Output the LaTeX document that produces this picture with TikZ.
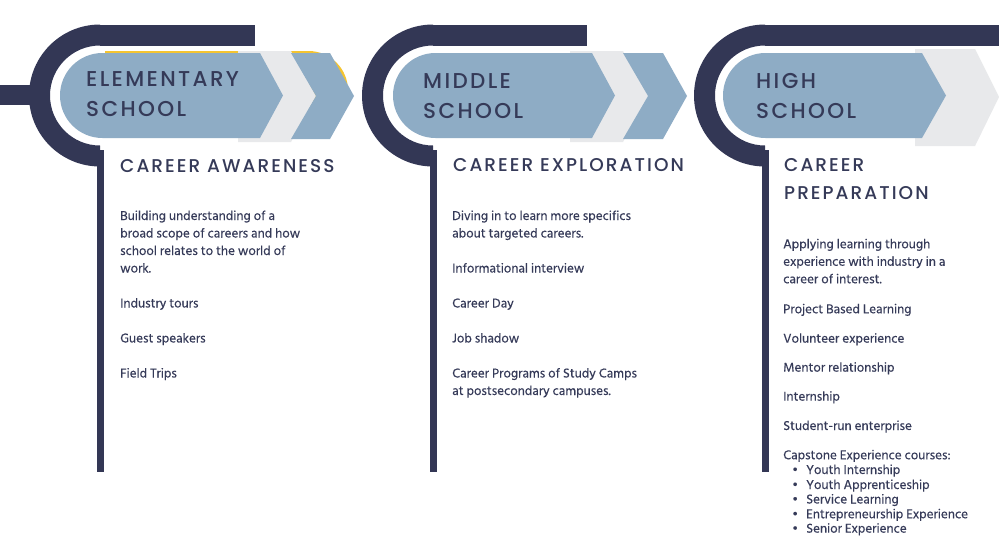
\documentclass[tikz,border=0pt]{standalone}
\usepackage{fontspec}
\IfFontExistsTF{Poppins Medium}
  {\newfontfamily\headfont[LetterSpace=11]{Poppins Medium}}
  {\newfontfamily\headfont[LetterSpace=12,FakeBold=1.2]{Poppins}}
\newfontfamily\bodyfont[FakeBold=0.4]{Hind Siliguri}
\definecolor{navy}{HTML}{333755}
\definecolor{pillblue}{HTML}{8EACC5}
\definecolor{chevgray}{HTML}{E8E9EB}
\definecolor{yel}{HTML}{F4C430}
\definecolor{txt}{HTML}{353A58}
\tikzset{
  bodytxt/.style={anchor=base west, inner sep=0pt, text=txt, font=\bodyfont\fontsize{13.2}{16}\selectfont},
  headtxt/.style={anchor=base west, inner sep=0pt, text=txt, font=\headfont\fontsize{21.5}{24}\selectfont},
  subtxt/.style={anchor=base west, inner sep=0pt, text=txt, font=\headfont\fontsize{18.5}{22}\selectfont},
}
\newcommand\Cshape[2]{% #1 cx, #2 bar right end
  \fill[navy] (#1,24.5) arc[start angle=270, end angle=90, radius=71] -- (#1,145.5)
     arc[start angle=90, end angle=270, radius=50] -- cycle;
  \fill[navy] (#1,24.5) rectangle (#2,45.5);
  \fill[navy] (#1-3.5,150) rectangle (#1+3.5,472);
}
\begin{document}
\begin{tikzpicture}[x=1pt,y=-1pt]
\useasboundingbox (0,0) rectangle (999,558);
\fill[white] (0,0) rectangle (999,558);
% left bar
\fill[navy] (0,85) rectangle (40,105);
% C shapes
\Cshape{100}{255}
\Cshape{433}{587}
\Cshape{765}{999}
% yellow behind (left)
\fill[yel] (105,130) -- (105,51) -- (308.5,51) arc[start angle=-90, end angle=90, radius=39.5] -- cycle;
% gray chevrons
\fill[chevgray] (238,51) -- (291,51) -- (316,96) -- (291,142) -- (238,142) -- cycle;
\fill[chevgray] (570,51) -- (623,51) -- (648,96) -- (623,142) -- (570,142) -- cycle;
\fill[chevgray] (915,49) -- (975,49) -- (999,97) -- (975,146) -- (915,146) -- cycle;
% blue pills
\fill[pillblue] (260,53) -- (283,95.5) -- (260,138) -- (102.5,138) arc[start angle=90, end angle=270, radius=42.5] -- cycle;
\fill[pillblue] (592,53) -- (615,95.5) -- (592,138) -- (435.5,138) arc[start angle=90, end angle=270, radius=42.5] -- cycle;
\fill[pillblue] (922,53) -- (946,95.5) -- (922,138) -- (765.5,138) arc[start angle=90, end angle=270, radius=42.5] -- cycle;
% second blue chevrons
\fill[pillblue] (291,53) -- (330,53) -- (354,96) -- (330,139) -- (291,139) -- (316,96) -- cycle;
\fill[pillblue] (623,53) -- (663,53) -- (687,96) -- (663,139) -- (623,139) -- (648,96) -- cycle;
% headings
\node[headtxt] (h1a) at (86,86) {ELEMENTARY};
\node[headtxt] (h1b) at (86,116) {SCHOOL};
\node[headtxt] (h2a) at (423,88.3) {MIDDLE};
\node[headtxt] (h2b) at (423,118.3) {SCHOOL};
\node[headtxt] (h3a) at (756,88.3) {HIGH};
\node[headtxt] (h3b) at (756,118.3) {SCHOOL};
\node[subtxt] (s1) at (120,172) {CAREER AWARENESS};
\node[subtxt] (s2) at (453,171.7) {CAREER EXPLORATION};
\node[subtxt] (s3a) at (784,171.7) {CAREER};
\node[subtxt] (s3b) at (784,199) {PREPARATION};
% left body
\node[bodytxt] (a1) at (120,220) {Building understanding of a};
\node[bodytxt] (a2) at (120,237.5) {broad scope of careers and how};
\node[bodytxt] (a3) at (120,255) {school relates to the world of};
\node[bodytxt] (a4) at (120,272.5) {work.};
\node[bodytxt] (a5) at (120,307.5) {Industry tours};
\node[bodytxt] (a6) at (120,342.5) {Guest speakers};
\node[bodytxt] (a7) at (120,377.5) {Field Trips};
% middle body
\node[bodytxt] (b1) at (452,220) {Diving in to learn more specifics};
\node[bodytxt] (b2) at (452,237.5) {about targeted careers.};
\node[bodytxt] (b3) at (452,272.5) {Informational interview};
\node[bodytxt] (b4) at (452,307.5) {Career Day};
\node[bodytxt] (b5) at (452,342.5) {Job shadow};
\node[bodytxt] (b6) at (452,377.5) {Career Programs of Study Camps};
\node[bodytxt] (b7) at (452,395) {at postsecondary campuses.};
% high body
\node[bodytxt] (c1) at (783,248.3) {Applying learning through};
\node[bodytxt] (c2) at (783,265.8) {experience with industry in a};
\node[bodytxt] (c3) at (783,283.3) {career of interest.};
\node[bodytxt] (c4) at (783,313.3) {Project Based Learning};
\node[bodytxt] (c5) at (783,342.7) {Volunteer experience};
\node[bodytxt] (c6) at (783,371.7) {Mentor relationship};
\node[bodytxt] (c7) at (783,400.7) {Internship};
\node[bodytxt] (c8) at (783,430) {Student-run enterprise};
\node[bodytxt] (c9) at (783,459.3) {Capstone Experience courses:};
\node[bodytxt] (d1b) at (792,474) {\textbullet};
\node[bodytxt] (d1) at (806,474) {Youth Internship};
\node[bodytxt] (d2b) at (792,489) {\textbullet};
\node[bodytxt] (d2) at (806,489) {Youth Apprenticeship};
\node[bodytxt] (d3b) at (792,503.5) {\textbullet};
\node[bodytxt] (d3) at (806,503.5) {Service Learning};
\node[bodytxt] (d4b) at (792,518.3) {\textbullet};
\node[bodytxt] (d4) at (806,518.3) {Entrepreneurship Experience};
\node[bodytxt] (d5b) at (792,532.7) {\textbullet};
\node[bodytxt] (d5) at (806,532.7) {Senior Experience};
\end{tikzpicture}
\end{document}
